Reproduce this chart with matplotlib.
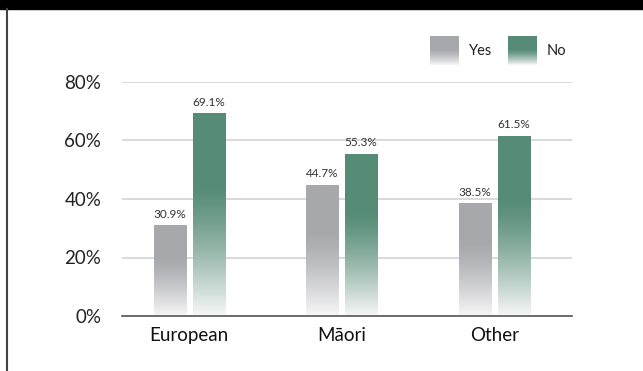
import numpy as np
import matplotlib
matplotlib.use("Agg")
import matplotlib.pyplot as plt
from matplotlib.colors import to_rgb

plt.rcParams['font.family'] = ['Lato', 'DejaVu Sans']

categories = ['European', 'Māori', 'Other']
series_names = ['Yes', 'No']
yes_vals = [30.9, 44.7, 38.5]
no_vals = [69.1, 55.3, 61.5]
yticks = [0, 20, 40, 60, 80]

colors = {'Yes': '#a7a8ac', 'No': '#558b77'}


def gradient_rgba(color, n=200, solid=0.35):
    # top part solid, then fades towards white at the bottom
    rgb = np.array(to_rgb(color))
    white = np.array([0.97, 0.97, 0.97])
    t = np.linspace(0, 1, n)
    w = np.clip((t - solid) / (1 - solid), 0, 1) ** 1.3
    rows = rgb[None, :] * (1 - w[:, None]) + white[None, :] * w[:, None]
    return rows[:, None, :]


fig = plt.figure(figsize=(6.43, 3.71), dpi=100)
ax = fig.add_axes([122 / 643, 1 - 316 / 371, 450 / 643, 234 / 371])

x = np.arange(len(categories))
width = 0.21
offset = 0.128
for vals, name, sign in [(yes_vals, 'Yes', -1), (no_vals, 'No', 1)]:
    img = gradient_rgba(colors[name])
    for xi, v in zip(x, vals):
        x0 = xi + sign * offset - width / 2
        ax.imshow(img, extent=(x0, x0 + width, 0, v), aspect='auto', zorder=2,
                  interpolation='bilinear')
        ax.text(xi + sign * offset, v + 2, f'{v}%', ha='center', va='bottom',
                fontsize=8.5, color='#333333', zorder=3)

ax.set_xlim(-0.44, 2.51)
ax.set_ylim(0, 80)
ax.set_yticks(yticks)
ax.set_yticklabels([f'{t}%' for t in yticks], fontsize=13.5, color='#222222')
ax.set_xticks(x)
ax.set_xticklabels(categories, fontsize=13.5, color='#111111')
ax.tick_params(length=0)
ax.tick_params(axis='y', pad=15)
ax.tick_params(axis='x', pad=8)
ax.grid(axis='y', color='#d9d9d9', linewidth=1.4, zorder=0)
ax.set_axisbelow(True)
for s in ['top', 'right', 'left']:
    ax.spines[s].set_visible(False)
ax.spines['bottom'].set_color('#555555')
ax.spines['bottom'].set_linewidth(1.2)
ax.spines['bottom'].set_zorder(4)

# legend swatches with the same fade
for name, lx in [('Yes', 430), ('No', 508)]:
    sw = fig.add_axes([lx / 643, 1 - 65 / 371, 29 / 643, 29 / 371])
    sw.imshow(gradient_rgba(colors[name], solid=0.45), aspect='auto',
              interpolation='bilinear')
    sw.axis('off')
    fig.text((lx + 39) / 643, 1 - 51 / 371, name, fontsize=10.5,
             va='center', ha='left', color='#222222')

# black header band and left edge line
fig.patches.append(plt.Rectangle((0, 1 - 9 / 371), 1, 9 / 371,
                                 transform=fig.transFigure, color='black'))
fig.lines.append(plt.Line2D([7 / 643, 7 / 643], [0, 1 - 9 / 371],
                            transform=fig.transFigure, color='#444444',
                            linewidth=1.5))

fig.savefig('out.png', dpi=100)
